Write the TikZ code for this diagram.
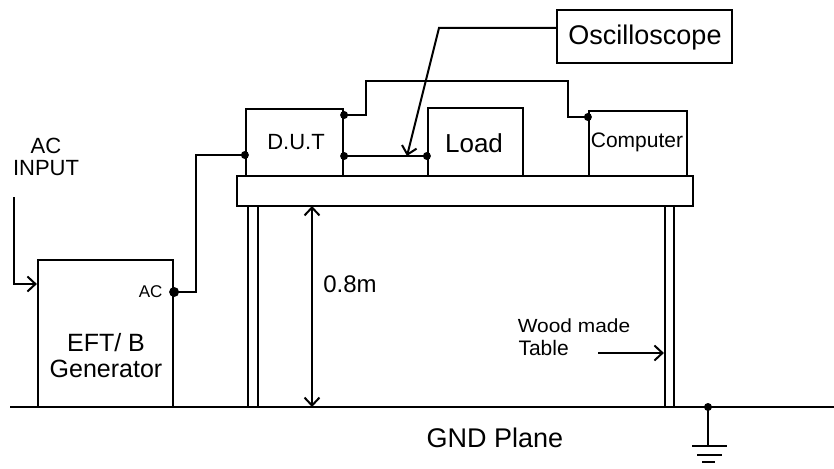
\documentclass[tikz,border=0pt]{standalone}
\usepackage{fontspec}
\setmainfont{Liberation Sans}
\usetikzlibrary{arrows.meta,calc}
\begin{document}
\begin{tikzpicture}[x=1pt,y=-1pt,
  every node/.style={font=\fontsize{22}{26}\selectfont},
  wire/.style={line width=2pt},
  boxnode/.style={draw,line width=2.2pt,inner sep=0pt,fill=white},
  dotnode/.style={circle,fill=black,inner sep=0pt,minimum size=8pt},
  bigdot/.style={circle,fill=black,inner sep=0pt,minimum size=10pt},
  barb/.style={-{Straight Barb[length=8pt,width=15pt,line width=2pt]}},
  dbarb/.style={{Straight Barb[length=8pt,width=15pt,line width=2pt]}-{Straight Barb[length=8pt,width=15pt,line width=2pt]}},
]
\useasboundingbox (0,0) rectangle (834,468);
\fill[white] (0,0) rectangle (834,468);

% ground plane line
\coordinate (gl) at (10,407);
\coordinate (gr) at (834,407);
\draw[line width=2.8pt] (gl) -- (gr);

% table
\node[boxnode,minimum width=456pt,minimum height=30pt] (top) at (465,191) {};
\node[boxnode,minimum width=10pt,minimum height=201pt] (legL) at (253,306.5) {};
\node[boxnode,minimum width=9pt,minimum height=201pt] (legR) at (669.5,306.5) {};

% boxes
\node[boxnode,minimum width=135pt,minimum height=147pt] (gen) at (105.5,333.5) {};
\node[font=\fontsize{25}{29}\selectfont,align=center] (gentxt) at (106,356) {EFT/ B\\[-3pt]Generator};
\node[boxnode,minimum width=97pt,minimum height=67pt] (dut) at (294.5,142.5) {};
\node (duttxt) at (296,142) {D.U.T};
\node[boxnode,minimum width=95pt,minimum height=68pt] (load) at (475.5,142) {};
\node[font=\fontsize{26}{30}\selectfont] (loadtxt) at (474,143) {Load};
\node[boxnode,minimum width=98pt,minimum height=65pt] (comp) at (638,143.5) {};
\node[font=\fontsize{21}{25}\selectfont] (comptxt) at (637,142) {Computer};
\node[boxnode,minimum width=175pt,minimum height=53pt] (osc) at (644.5,36.5) {};
\node[font=\fontsize{27}{31}\selectfont] (osctxt) at (645,38) {Oscilloscope};

% connection points
\coordinate (acout) at (gen.east |- 0,292);
\coordinate (dutL) at (dut.west |- 0,155);
\coordinate (dutR1) at (dut.east |- 0,115);
\coordinate (dutR2) at (dut.east |- 0,156);
\coordinate (loadL) at (load.west |- 0,156);
\coordinate (compL) at (comp.west |- 0,117);
\coordinate (oscL) at (osc.west |- 0,28);
\coordinate (probe) at (407,156);

% wires
\draw[wire] (acout) -- ++(22,0) |- (dutL);
\draw[wire] (dutR1) -| (366,81) -| (568,117) -- (compL);
\draw[wire] (dutR2) -- (loadL);
\draw[wire,barb] (oscL) -- (439,28) -- (probe);

% dots
\node[bigdot] (d1) at (acout) {};
\node[dotnode] (d2) at (dutL) {};
\node[dotnode] (d3) at (dutR1) {};
\node[dotnode] (d4) at (dutR2) {};
\node[dotnode] (d5) at (loadL) {};
\node[dotnode] (d6) at (compL) {};

\node[font=\fontsize{17}{20}\selectfont,anchor=east] (actxt) at (166,292) {AC};

% AC input
\node[align=center] (acin) at (46,157) {AC\\[-4pt]INPUT};
\coordinate (acinS) at (14,197);
\draw[wire,barb] (acinS) |- (gen.west |- 0,284);

% height
\coordinate (hT) at (312,206);
\coordinate (hB) at (312,407);
\draw[wire,dbarb] (hT) -- (hB);
\node[font=\fontsize{24}{28}\selectfont] (h) at (350,284) {0.8m};

% wood made table
\node[font=\fontsize{19}{22}\selectfont,anchor=west,xscale=1.1] (wood) at (514,326) {Wood made};
\node[font=\fontsize{21}{25}\selectfont,anchor=west] (tabtxt) at (515,348) {Table};
\coordinate (woodS) at (598,353);
\draw[wire,barb] (woodS) -- (legR.west |- woodS);

% GND
\node[font=\fontsize{27}{31}\selectfont] (gnd) at (495,438) {GND Plane};
\node[dotnode] (gdot) at (708,407) {};
\coordinate (gb) at (708,446);
\draw[wire] (gdot.center) -- (gb);
\draw[wire] ($(gb)+(-16,0)$) -- ($(gb)+(19,0)$);
\draw[wire] ($(gb)+(-11,9)$) -- ($(gb)+(14,9)$);
\draw[wire] ($(gb)+(-6,16)$) -- ($(gb)+(7,16)$);
\end{tikzpicture}
\end{document}
